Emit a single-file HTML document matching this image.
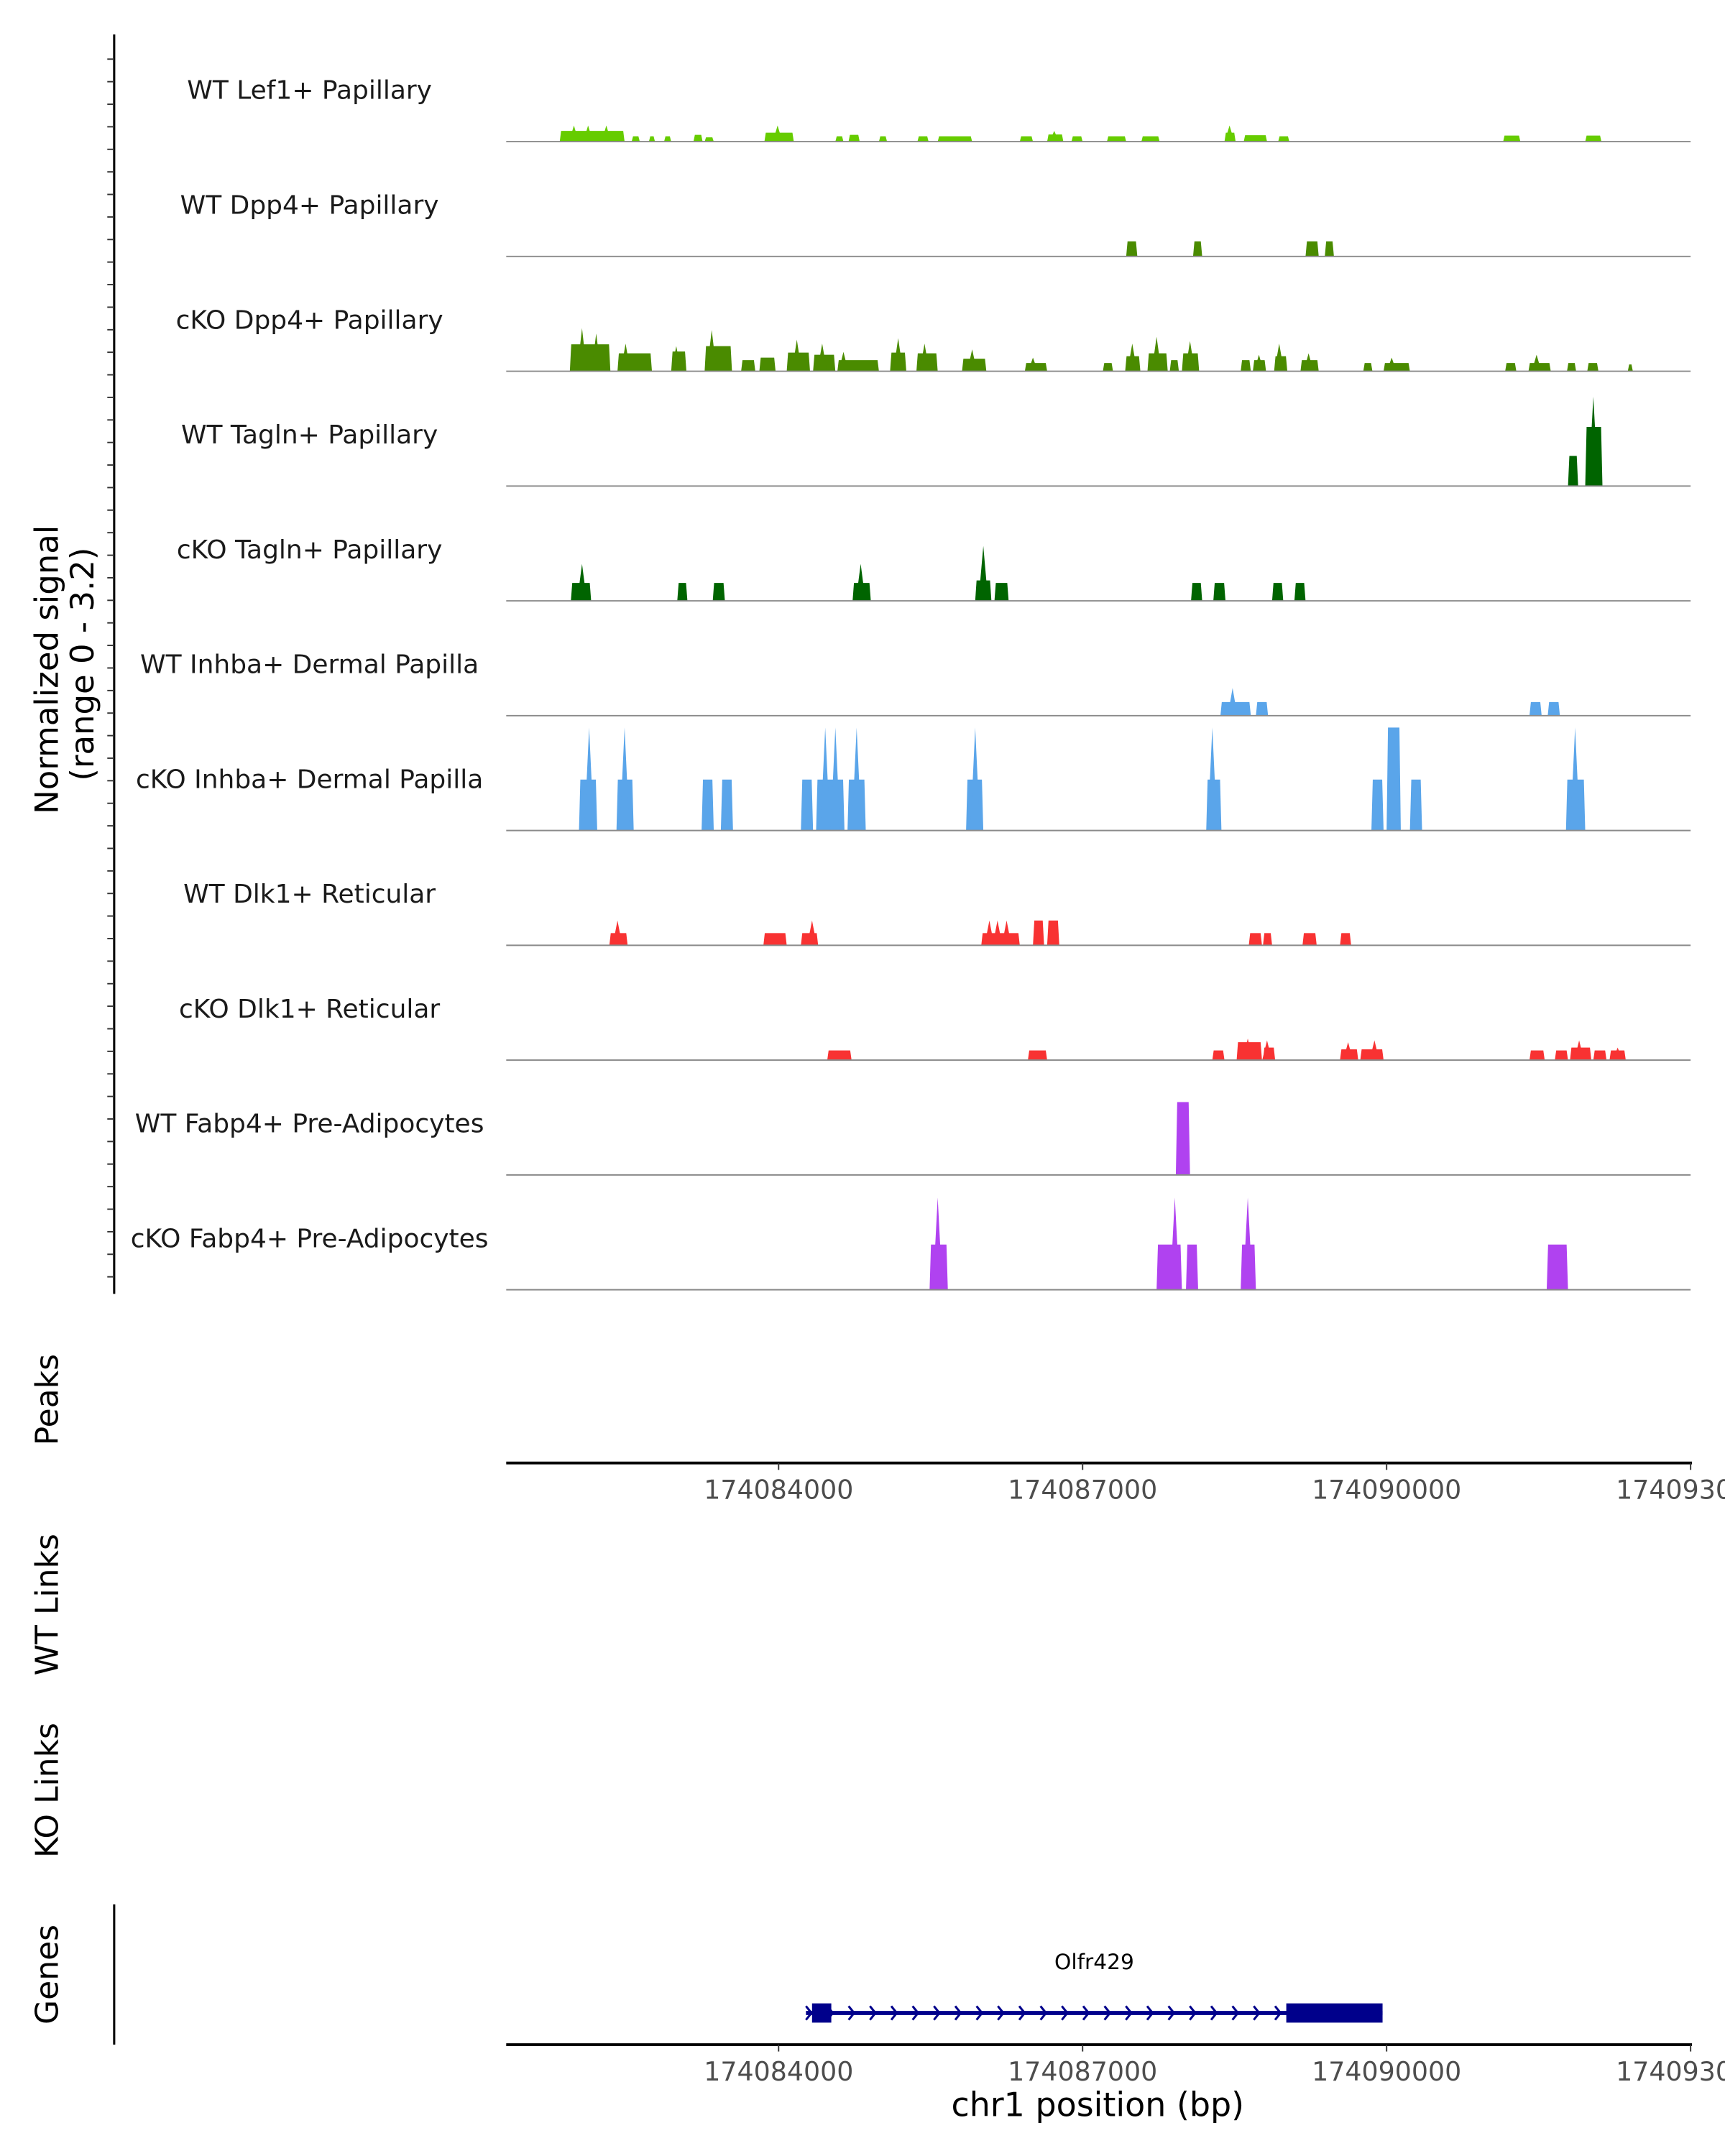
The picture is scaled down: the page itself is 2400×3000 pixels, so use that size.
<!DOCTYPE html>
<html><head><meta charset="utf-8"><style>
html,body{margin:0;padding:0;background:#fff;}
svg{display:block;}
text{font-family:"DejaVu Sans","Liberation Sans",sans-serif;}
</style></head><body>
<svg id="chart" xmlns="http://www.w3.org/2000/svg" width="2400" height="3000" viewBox="0 0 1254 1568" preserveAspectRatio="none">
<g id="g-axes"></g>
<g id="g-tracks"></g>
<g id="g-gene"></g>
</svg>
<script>
const xDomain = [174081312, 174093000];
const xTicks = [174084000, 174087000, 174090000, 174093000];
const yMax = 3.2;
const trackLabels = ["WT Lef1+ Papillary","WT Dpp4+ Papillary","cKO Dpp4+ Papillary","WT Tagln+ Papillary","cKO Tagln+ Papillary","WT Inhba+ Dermal Papilla","cKO Inhba+ Dermal Papilla","WT Dlk1+ Reticular","cKO Dlk1+ Reticular","WT Fabp4+ Pre-Adipocytes","cKO Fabp4+ Pre-Adipocytes"];
const trackColors = ["#66CC00","#4A8B00","#4A8B00","#006400","#006400","#5AA5EA","#5AA5EA","#F83232","#F83232","#B042F0","#B042F0"];

const lef1Peaks = [[174081840,174082480,0.3],[174082550,174082630,0.15],[174082720,174082780,0.15],[174082870,174082940,0.15],[174083160,174083250,0.19],[174083270,174083360,0.12],[174083860,174084150,0.25],[174084560,174084640,0.15],[174084690,174084800,0.19],[174084990,174085070,0.15],[174085370,174085480,0.15],[174085570,174085910,0.15],[174086380,174086510,0.15],[174086650,174086810,0.2],[174086890,174087000,0.15],[174087240,174087430,0.15],[174087580,174087760,0.15],[174088400,174088510,0.25],[174088590,174088820,0.18],[174088930,174089040,0.15],[174091150,174091320,0.17],[174091960,174092120,0.17]];
const lef1Spikes = [[174081980,0.45],[174082120,0.45],[174082300,0.45],[174083990,0.45],[174088450,0.45],[174086720,0.3]];
const wtDpp4Peaks = [[174087430,174087540,0.42],[174088090,174088180,0.42],[174089200,174089330,0.42],[174089390,174089480,0.42]];
const wtDpp4Spikes = [];
const koDpp4Peaks = [[174081940,174082340,0.75],[174082410,174082750,0.5],[174082940,174083090,0.55],[174083270,174083540,0.7],[174083630,174083770,0.31],[174083810,174083970,0.38],[174084080,174084310,0.52],[174084340,174084560,0.46],[174084580,174084990,0.31],[174085100,174085260,0.52],[174085360,174085570,0.5],[174085810,174086050,0.35],[174086430,174086650,0.23],[174087200,174087300,0.23],[174087420,174087570,0.42],[174087640,174087840,0.5],[174087860,174087950,0.31],[174087980,174088150,0.5],[174088560,174088660,0.31],[174088680,174088810,0.31],[174088890,174089020,0.42],[174089150,174089330,0.31],[174089770,174089860,0.23],[174089970,174090230,0.23],[174091170,174091280,0.23],[174091400,174091620,0.23],[174091780,174091870,0.23],[174091980,174092090,0.23],[174092380,174092430,0.19]];
const koDpp4Spikes = [[174082060,1.2],[174082200,1.05],[174082490,0.77],[174082990,0.7],[174083340,1.15],[174084180,0.88],[174084430,0.77],[174084640,0.54],[174085180,0.92],[174085440,0.77],[174085910,0.61],[174086510,0.38],[174087490,0.77],[174087730,0.96],[174088060,0.84],[174088740,0.46],[174088940,0.77],[174089230,0.5],[174090050,0.38],[174091480,0.46]];
const wtTaglnPeaks = [[174091790,174091890,0.84],[174091960,174092130,1.65]];
const wtTaglnSpikes = [[174092040,2.49]];
const koTaglnPeaks = [[174081950,174082150,0.5],[174083000,174083100,0.5],[174083350,174083470,0.5],[174084730,174084910,0.5],[174085940,174086100,0.57],[174086130,174086270,0.5],[174088070,174088180,0.5],[174088290,174088410,0.5],[174088870,174088980,0.5],[174089090,174089200,0.5]];
const koTaglnSpikes = [[174082060,1.03],[174084810,1.03],[174086020,1.53]];
const wtInhbaPeaks = [[174088360,174088660,0.38],[174088710,174088830,0.38],[174091410,174091530,0.38],[174091590,174091710,0.38]];
const wtInhbaSpikes = [[174088480,0.77]];
const koInhbaPeaks = [[174082030,174082210,1.42],[174082400,174082570,1.42],[174083240,174083360,1.42],[174083430,174083550,1.42],[174084220,174084340,1.42],[174084370,174084650,1.42],[174084680,174084860,1.42],[174085850,174086020,1.42],[174088220,174088370,1.42],[174089850,174089970,1.42],[174090000,174090140,2.87],[174090230,174090350,1.42],[174091770,174091960,1.42]];
const koInhbaSpikes = [[174082130,2.87],[174082480,2.87],[174084460,2.87],[174084560,2.87],[174084770,2.87],[174085940,2.87],[174088280,2.87],[174091860,2.87]];
const wtDlk1Peaks = [[174082330,174082510,0.34],[174083850,174084080,0.34],[174084220,174084390,0.34],[174086000,174086380,0.34],[174086510,174086620,0.69],[174086650,174086770,0.69],[174088640,174088770,0.34],[174088780,174088870,0.34],[174089170,174089310,0.34],[174089540,174089650,0.34]];
const wtDlk1Spikes = [[174082410,0.69],[174084330,0.69],[174086080,0.69],[174086160,0.69],[174086250,0.69]];
const koDlk1Peaks = [[174084480,174084720,0.27],[174086460,174086650,0.27],[174088280,174088400,0.27],[174088520,174088770,0.5],[174088780,174088900,0.35],[174089540,174089720,0.3],[174089740,174089970,0.3],[174091410,174091560,0.27],[174091660,174091790,0.27],[174091810,174092020,0.35],[174092040,174092170,0.27],[174092200,174092360,0.27]];
const koDlk1Spikes = [[174088630,0.6],[174088820,0.55],[174089620,0.5],[174089880,0.55],[174091900,0.55],[174092280,0.35]];
const wtFabp4Peaks = [[174087920,174088060,2.03]];
const wtFabp4Spikes = [];
const koFabp4Peaks = [[174085490,174085670,1.26],[174087730,174087980,1.26],[174088020,174088140,1.26],[174088560,174088710,1.26],[174091580,174091790,1.26]];
const koFabp4Spikes = [[174085570,2.57],[174087910,2.57],[174088630,2.57]];

const allPeaks = [lef1Peaks,wtDpp4Peaks,koDpp4Peaks,wtTaglnPeaks,koTaglnPeaks,wtInhbaPeaks,koInhbaPeaks,wtDlk1Peaks,koDlk1Peaks,wtFabp4Peaks,koFabp4Peaks];
const allSpikes = [lef1Spikes,wtDpp4Spikes,koDpp4Spikes,wtTaglnSpikes,koTaglnSpikes,wtInhbaSpikes,koInhbaSpikes,wtDlk1Spikes,koDlk1Spikes,wtFabp4Spikes,koFabp4Spikes];

const geneName = "Olfr429";
const geneSpan = [174084270, 174089960];
const geneExons = [[174084330,174084520],[174089010,174089960]];

const NS = "http://www.w3.org/2000/svg";
const X0 = 368, X1 = 1229;
function xs(bp){ return X0 + (bp - xDomain[0]) / (xDomain[1] - xDomain[0]) * (X1 - X0); }
const trackTop = 25, trackH = 83.5, baseOff = 78;
function base(i){ return trackTop + baseOff + i * trackH; }
function ys(v){ return v / yMax * trackH; }
function mk(tag, attrs, parent){ const e=document.createElementNS(NS,tag); for(const k in attrs) e.setAttribute(k,attrs[k]); parent.appendChild(e); return e; }

const gA = document.getElementById('g-axes');
const gT = document.getElementById('g-tracks');
const gG = document.getElementById('g-gene');

let el = mk('line',{x1:83,y1:25,x2:83,y2:941,stroke:'#000','stroke-width':1.6},gA);


for(let y=43; y<940; y+=16.4){
  el = mk('line',{x1:78,y1:y,x2:83,y2:y,stroke:'#333','stroke-width':1},gA);
  
  
}
el = mk('text',{x:0,y:0,'font-size':23.5,'text-anchor':'middle',fill:'#000',transform:'translate(42,487) rotate(-90)'},gA);
el.textContent='Normalized signal';


el = mk('text',{x:0,y:0,'font-size':23.5,'text-anchor':'middle',fill:'#000',transform:'translate(68,483) rotate(-90)'},gA);
el.textContent='(range 0 - 3.2)';



const sideTitles = [["Peaks",1018],["WT Links",1167],["KO Links",1302],["Genes",1436]];
sideTitles.forEach(t=>{
  const e = mk('text',{x:0,y:0,'font-size':23,'text-anchor':'middle',fill:'#000',transform:'translate(42,'+t[1]+') rotate(-90)'},gA);
  e.textContent=t[0];
  
  
});

trackLabels.forEach((lab,i)=>{
  const b = base(i);
  const g = mk('g',{},gT);
  
  
  let t = mk('text',{x:225,y:b-31,'font-size':18.8,'text-anchor':'middle',fill:'#1a1a1a'},g);
  t.textContent = lab;
  
  
  allPeaks[i].forEach(p=>{
    const x0=xs(p[0]), x1=xs(p[1]), h=ys(p[2]);
    const e = mk('polygon',{points:`${x0},${b} ${x0+1},${b-h} ${x1-1},${b-h} ${x1},${b}`,fill:trackColors[i]},g);
    
    
  });
  allSpikes[i].forEach(s=>{
    const x=xs(s[0]), h=ys(s[1]);
    const e = mk('polygon',{points:`${x-3.5},${b} ${x},${b-h} ${x+3.5},${b}`,fill:trackColors[i]},g);
    
    
  });
  const bl = mk('line',{x1:X0,y1:b,x2:X1,y2:b,stroke:'#8a8a8a','stroke-width':1},g);
  
  
});

function xAxis(y, name){
  const g = mk('g',{},gA);
  
  
  mk('line',{x1:X0,y1:y,x2:X1+1,y2:y,stroke:'#000','stroke-width':2},g);
  xTicks.forEach(v=>{
    const x=xs(v);
    mk('line',{x1:x,y1:y,x2:x,y2:y+5,stroke:'#333','stroke-width':1},g);
    const t = mk('text',{x:x,y:y+26,'font-size':19,'text-anchor':'middle',fill:'#4d4d4d'},g);
    t.textContent=String(v);
    
    
  });
}
xAxis(1064,'peaks-x-axis');
xAxis(1487,'genes-x-axis');
el = mk('text',{x:798,y:1539,'font-size':24,'text-anchor':'middle',fill:'#000'},gA);
el.textContent='chr1 position (bp)';



el = mk('line',{x1:83,y1:1385,x2:83,y2:1487,stroke:'#000','stroke-width':1.6},gA);



const gy = 1464;
el = mk('line',{x1:xs(geneSpan[0]),y1:gy,x2:xs(geneSpan[1]),y2:gy,stroke:'#00008B','stroke-width':3},gG);


geneExons.forEach(ex=>{
  const e = mk('rect',{x:xs(ex[0]),y:gy-7,width:xs(ex[1])-xs(ex[0]),height:14,fill:'#00008B'},gG);
  
  
});
for(let x=xs(geneSpan[0])+2; x<xs(geneExons[1][0]); x+=15.5){
  const e = mk('polyline',{points:`${x-2},${gy-5} ${x+2},${gy} ${x-2},${gy+5}`,fill:'none',stroke:'#00008B','stroke-width':1.6},gG);
  
  
}
el = mk('text',{x:xs((geneSpan[0]+geneSpan[1])/2),y:1432,'font-size':15.5,'text-anchor':'middle',fill:'#000'},gG);
el.textContent=geneName;


</script>
</body></html>
